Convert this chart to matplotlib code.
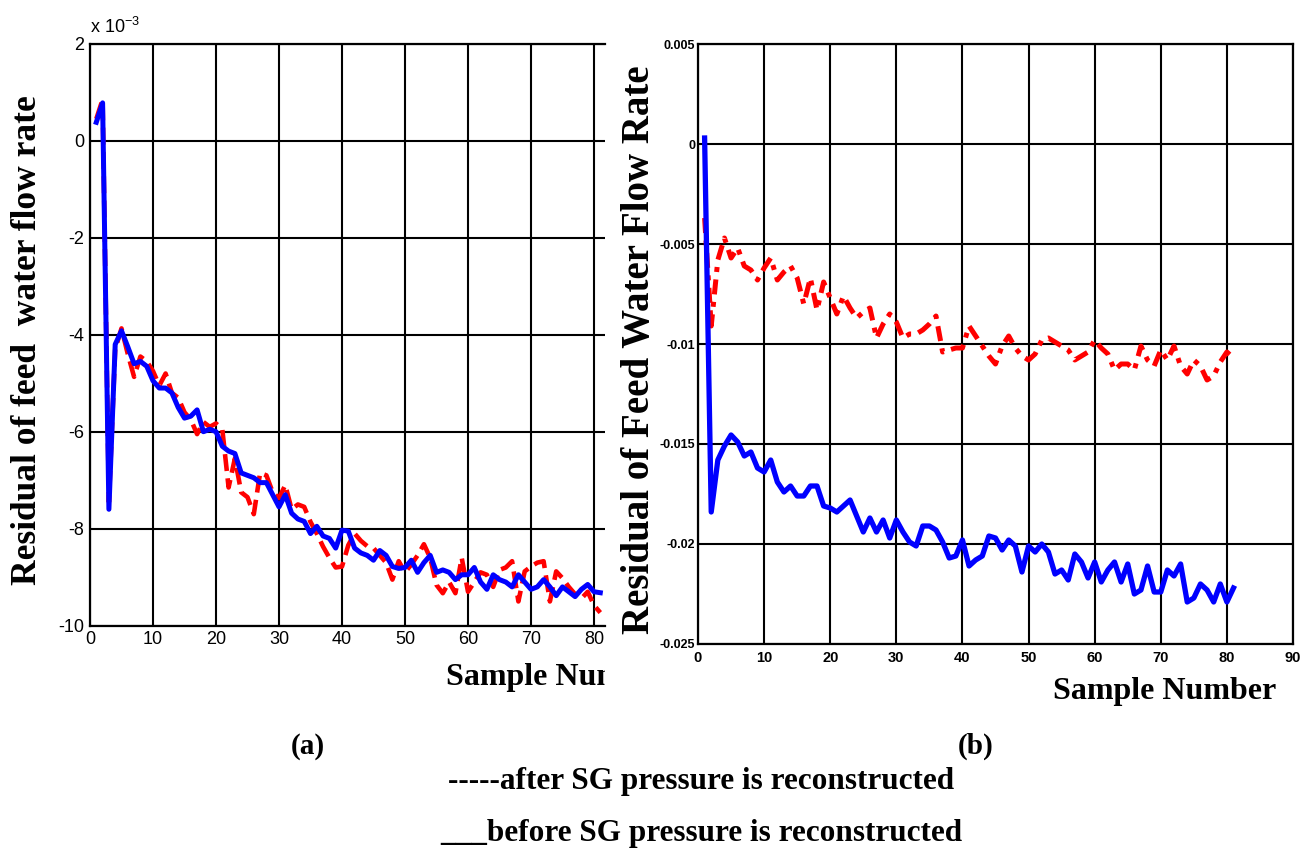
import numpy as np
import matplotlib
matplotlib.use("Agg")
import matplotlib.pyplot as plt
from matplotlib.transforms import Bbox, TransformedBbox

# sample numbers
samples = np.arange(1, 82)

# (a) residual of feed water flow rate, in units of 1e-3
after_a = [0.45, 0.85, -7.45, -4.3, -3.87, -4.4, -4.87, -4.45, -4.55, -4.75,
           -5.05, -4.8, -5.2, -5.3, -5.6, -5.75, -6.05, -5.8, -5.9, -5.83,
           -5.95, -7.15, -6.55, -7.25, -7.35, -7.7, -6.85, -6.9, -7.25, -7.37,
           -7.1, -7.6, -7.5, -7.55, -7.86, -8.1, -8.37, -8.6, -8.8, -8.78,
           -8.34, -8.1, -8.25, -8.36, -8.4, -8.55, -8.7, -9.05, -8.67, -8.9,
           -8.74, -8.55, -8.32, -8.6, -9.16, -9.33, -9.1, -9.33, -8.6, -9.3,
           -9.1, -8.9, -8.95, -9.2, -8.85, -8.8, -8.67, -9.5, -8.88, -8.78,
           -8.7, -8.67, -9.5, -8.88, -9.02, -9.2, -9.35, -9.44, -9.3, -9.58,
           -9.73]
before_a = [0.38, 0.78, -7.6, -4.2, -3.92, -4.25, -4.6, -4.55, -4.65, -4.95,
            -5.1, -5.1, -5.2, -5.5, -5.72, -5.68, -5.55, -6.0, -5.95, -6.0,
            -6.3, -6.4, -6.45, -6.85, -6.9, -6.95, -7.05, -7.05, -7.3, -7.55,
            -7.3, -7.68, -7.8, -7.85, -8.1, -7.95, -8.15, -8.2, -8.4, -8.03,
            -8.05, -8.4, -8.5, -8.55, -8.65, -8.45, -8.55, -8.78, -8.82, -8.8,
            -8.65, -8.9, -8.7, -8.55, -8.9, -8.85, -8.9, -9.05, -8.95, -8.95,
            -8.8, -9.1, -9.25, -8.95, -9.05, -9.1, -9.2, -8.95, -9.1, -9.25,
            -9.2, -9.05, -9.2, -9.38, -9.2, -9.3, -9.4, -9.25, -9.15, -9.3,
            -9.32]

# (b) residual of feed water flow rate
after_b = [-0.0037, -0.0091, -0.0058, -0.0047, -0.0057, -0.0052, -0.0061, -0.0063, -0.0068, -0.0062,
           -0.0057, -0.0068, -0.0064, -0.0061, -0.0067, -0.0080, -0.0067, -0.0083, -0.0069, -0.0077,
           -0.0085, -0.0076, -0.0082, -0.0087, -0.0084, -0.0082, -0.0097, -0.0090, -0.0085, -0.0089,
           -0.0097, -0.0095, -0.0095, -0.0093, -0.0090, -0.0086, -0.0104, -0.0103, -0.0102, -0.0102,
           -0.0091, -0.0096, -0.0101, -0.0106, -0.0110, -0.0101, -0.0096, -0.0102, -0.0106, -0.0108,
           -0.0105, -0.0098, -0.0097, -0.0099, -0.0101, -0.0103, -0.0108, -0.0106, -0.0104, -0.0098,
           -0.0102, -0.0105, -0.0113, -0.0110, -0.0110, -0.0113, -0.0101, -0.0108, -0.0111, -0.0103,
           -0.0108, -0.0101, -0.0111, -0.0115, -0.0108, -0.0111, -0.0118, -0.0116, -0.0109, -0.0104,
           -0.0107]
before_b = [0.0003, -0.0184, -0.0158, -0.0151, -0.01455, -0.0149, -0.0156, -0.0154, -0.0162, -0.0164,
            -0.0158, -0.0169, -0.0174, -0.0171, -0.0176, -0.0176, -0.0171, -0.0171, -0.0181, -0.0182,
            -0.0184, -0.0181, -0.0178, -0.0186, -0.0194, -0.0187, -0.0194, -0.0188, -0.0197, -0.0188,
            -0.0194, -0.0199, -0.0201, -0.0191, -0.0191, -0.0193, -0.0199, -0.0207, -0.0206, -0.0198,
            -0.0211, -0.0208, -0.0206, -0.0196, -0.0197, -0.0203, -0.0198, -0.0201, -0.0214, -0.0201,
            -0.0204, -0.0200, -0.0204, -0.0215, -0.0213, -0.0218, -0.0205, -0.0209, -0.0217, -0.0209,
            -0.0219, -0.0213, -0.0209, -0.0219, -0.0210, -0.0225, -0.0223, -0.0211, -0.0224, -0.0224,
            -0.0213, -0.0216, -0.0210, -0.0229, -0.0227, -0.0220, -0.0223, -0.0229, -0.0220, -0.0229,
            -0.0222]

a_yticks = [-10, -8, -6, -4, -2, 0, 2]
b_yticks = [-0.025, -0.02, -0.015, -0.01, -0.005, 0, 0.005]
b_ylabels = ['-0.025', '-0.02', '-0.015', '-0.01', '-0.005', '0', '0.005']

W, H = 1315, 851
SERIF = 'Liberation Serif'
SANS = 'Liberation Sans'
plt.rcParams['mathtext.fontset'] = 'custom'
plt.rcParams['mathtext.rm'] = SANS

fig = plt.figure(figsize=(W / 100, H / 100), dpi=100)


def px(x0, y0, x1, y1):
    # pixel box (left, top, right, bottom) -> figure fractions
    return [x0 / W, 1 - y1 / H, (x1 - x0) / W, (y1 - y0) / H]


def style_axes(ax):
    ax.grid(True, color='black', linewidth=1.5, linestyle='-')
    ax.set_axisbelow(True)
    for s in ax.spines.values():
        s.set_linewidth(1.6)
        s.set_color('black')
    ax.tick_params(direction='in', length=4, width=1.2, colors='black')


# ---- panel (a) ----
ax1 = fig.add_axes(px(90, 43.7, 605, 625.7))
ax1.plot(samples, after_a, color='red', linestyle='--', linewidth=3.3)
ax1.plot(samples, before_a, color='blue', linestyle='-', linewidth=3.6)
ax1.set_xlim(0, 515 / 6.3)
ax1.set_ylim(-10, 2)
ax1.set_xticks(range(0, 90, 10))
ax1.set_yticks(a_yticks)
ax1.set_yticklabels([str(v) for v in a_yticks])
style_axes(ax1)
ax1.spines['right'].set_visible(False)
ax1.tick_params(labelsize=13, pad=4)
for lbl in ax1.get_xticklabels() + ax1.get_yticklabels():
    lbl.set_family(SANS)
ax1.text(0.0, 1.012, 'x 10$^{-3}$', transform=ax1.transAxes, ha='left', va='bottom',
         fontsize=13, family=SANS)

# panel (a) is cut off on its right side
clip = TransformedBbox(Bbox([[0, 0], [605 / W, 1]]), fig.transFigure)
for lbl in ax1.get_xticklabels():
    lbl.set_clip_box(clip)
    lbl.set_clip_on(True)

# ---- panel (b) ----
ax2 = fig.add_axes(px(698, 44, 1293, 644))
ax2.plot(samples, after_b, color='red', linestyle=(0, (3, 1.5, 1, 1.5)), linewidth=3.6)
ax2.plot(samples, before_b, color='blue', linestyle='-', linewidth=3.8)
ax2.set_xlim(0, 90)
ax2.set_ylim(-0.025, 0.005)
ax2.set_xticks(range(0, 100, 10))
ax2.set_yticks(b_yticks)
ax2.set_yticklabels(b_ylabels)
style_axes(ax2)
ax2.tick_params(axis='x', labelsize=10.5, pad=5)
ax2.tick_params(axis='y', labelsize=9, pad=2)
for lbl in ax2.get_xticklabels() + ax2.get_yticklabels():
    lbl.set_family(SANS)
    lbl.set_weight('bold')

# ---- axis titles ----
fig.text(28 / W, 1 - 340 / H, 'Residual of feed  water flow rate', rotation=90,
         ha='center', va='center', fontsize=25.5, weight='bold', family=SERIF)
fig.text(640 / W, 1 - 350 / H, 'Residual of Feed Water Flow Rate', rotation=90,
         ha='center', va='center', fontsize=28, weight='bold', family=SERIF)
t = fig.text(446 / W, 1 - 677 / H, 'Sample Number', ha='left', va='center',
             fontsize=23, weight='bold', family=SERIF)
t.set_clip_box(clip)
t.set_clip_on(True)
fig.text(1165 / W, 1 - 691 / H, 'Sample Number', ha='center', va='center',
         fontsize=23, weight='bold', family=SERIF)

# ---- captions ----
fig.text(308 / W, 1 - 746 / H, '(a)', ha='center', va='center', fontsize=21,
         weight='bold', family=SERIF)
fig.text(976 / W, 1 - 746 / H, '(b)', ha='center', va='center', fontsize=21,
         weight='bold', family=SERIF)
fig.text(701 / W, 1 - 781 / H, '-----after SG pressure is reconstructed', ha='center',
         va='center', fontsize=22.5, weight='bold', family=SERIF)
fig.text(701 / W, 1 - 833 / H, '___before SG pressure is reconstructed', ha='center',
         va='center', fontsize=22.5, weight='bold', family=SERIF)

fig.savefig('out.png', dpi=100)
